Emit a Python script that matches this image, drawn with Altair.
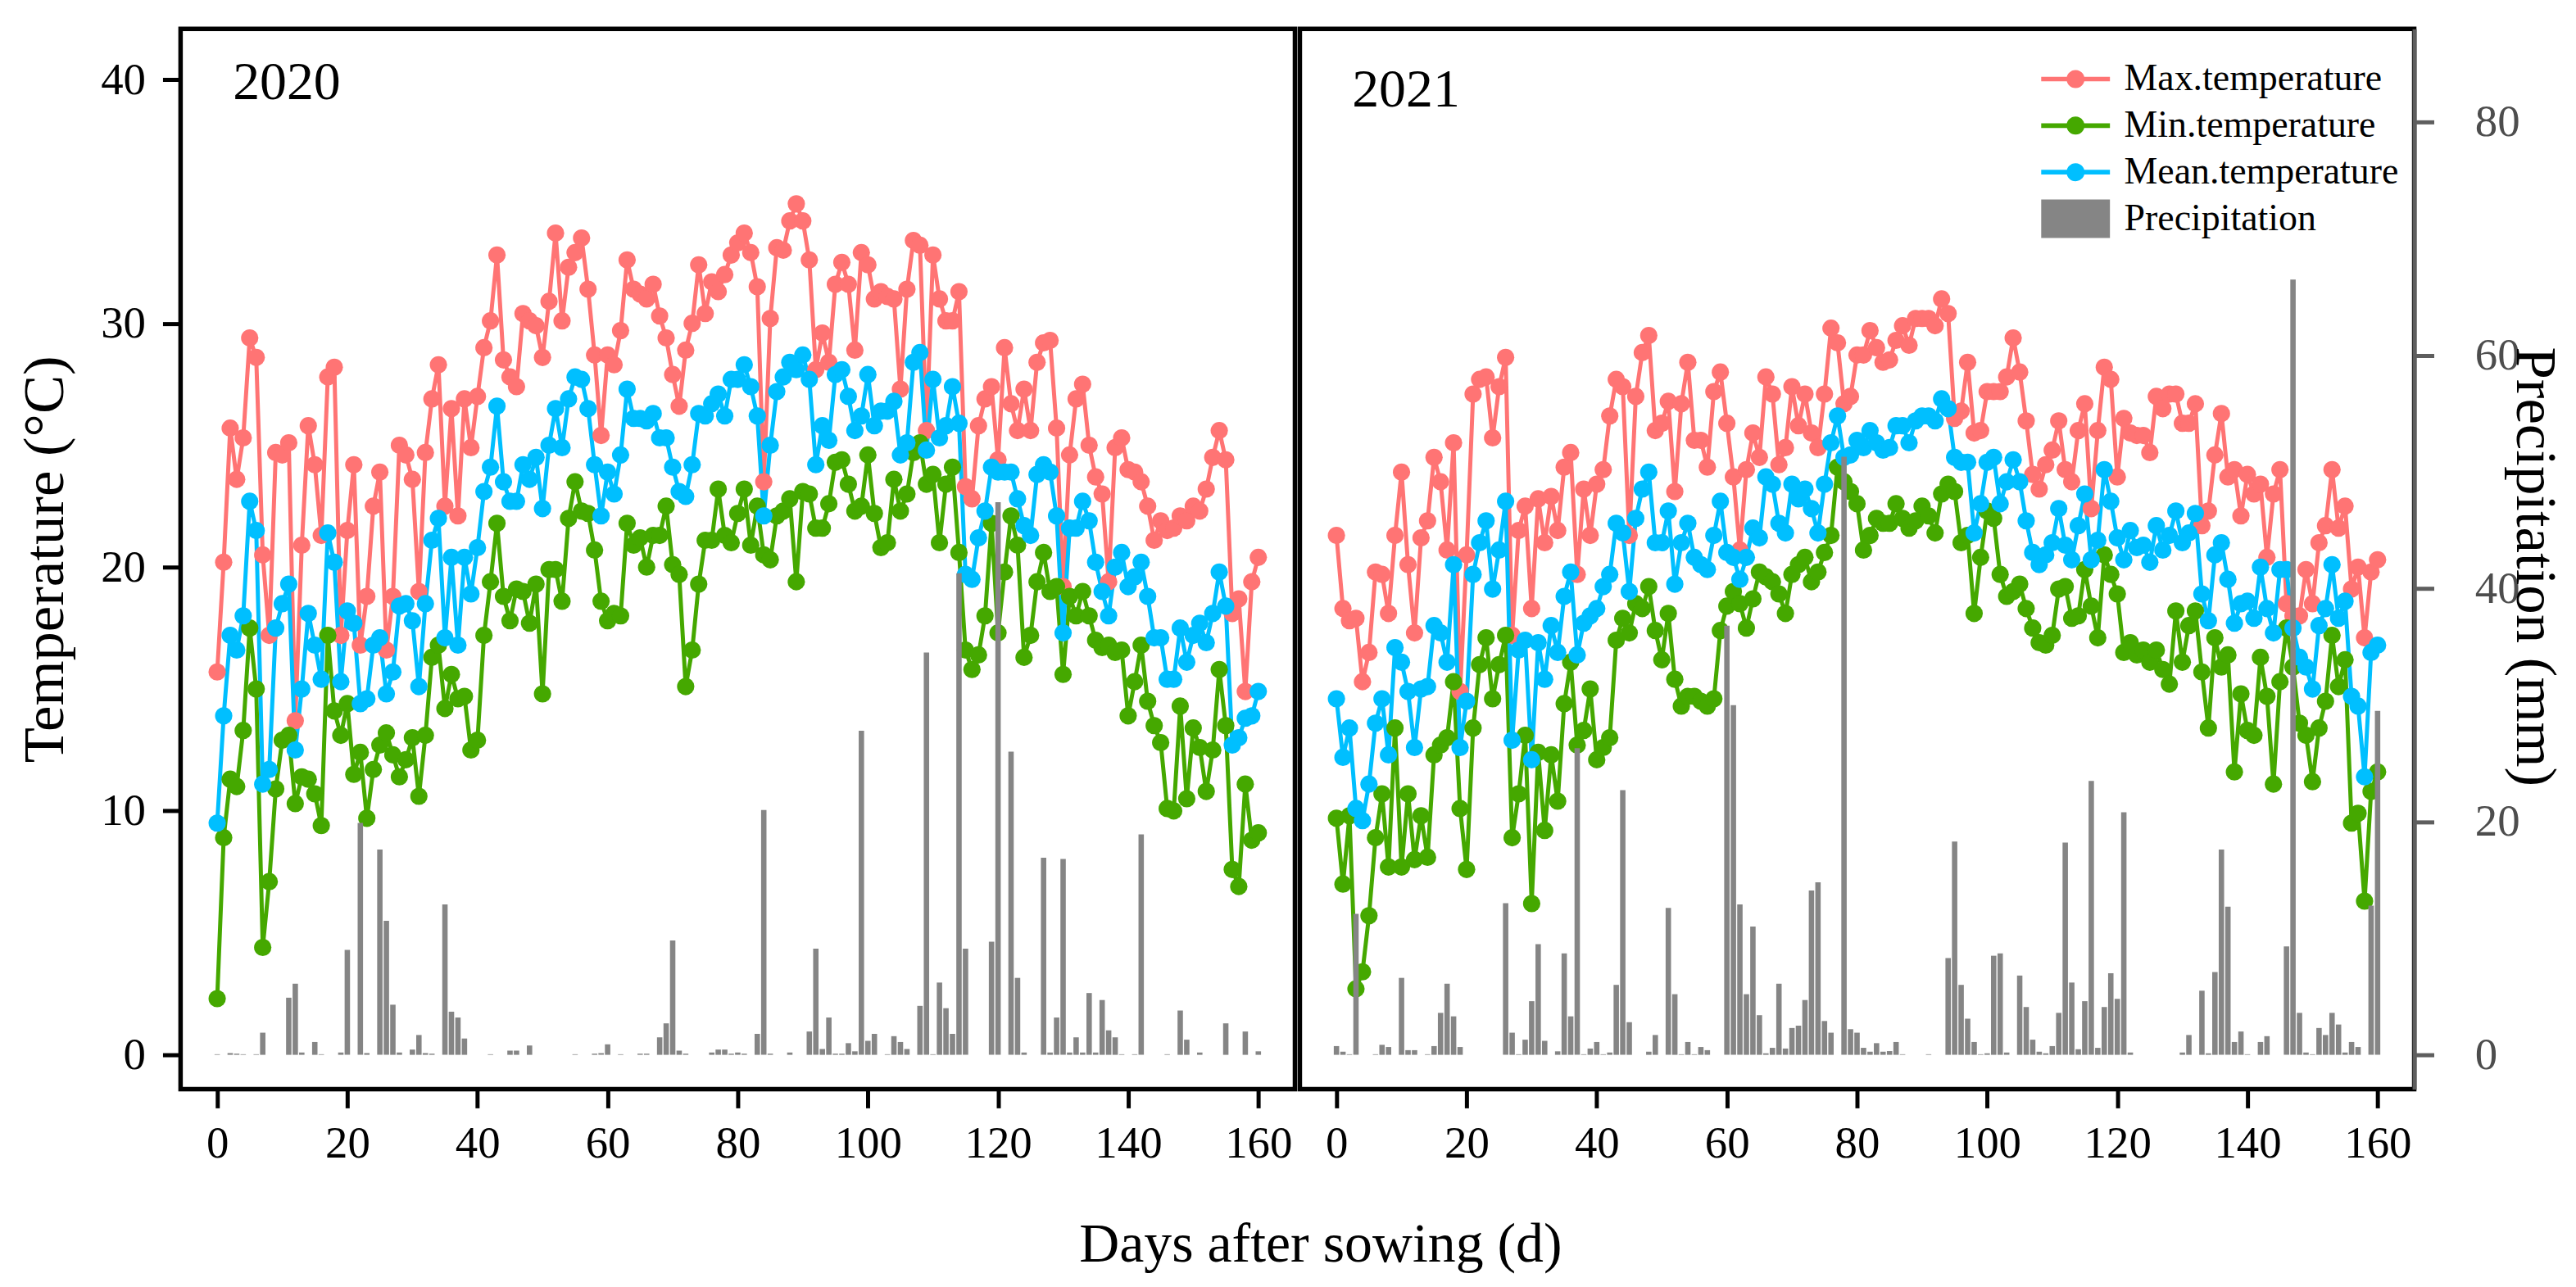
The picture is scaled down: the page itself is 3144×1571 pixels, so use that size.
import altair as alt
import pandas as pd

days = list(range(161))

max_2020 = [15.7, 20.2, 25.7, 23.6, 25.3, 29.4, 28.6, 20.5, 17.2, 24.7,
 24.6, 25.1, 13.7, 20.9, 25.8, 24.2, 21.3, 27.8, 28.2, 17.2,
 21.5, 24.2, 16.8, 18.8, 22.5, 23.9, 16.6, 18.8, 25.0, 24.6,
 23.6, 19.0, 24.7, 26.9, 28.3, 22.5, 26.5, 22.1, 26.9, 24.9,
 27.0, 29.0, 30.1, 32.8, 28.5, 27.8, 27.4, 30.4, 30.1, 29.9,
 28.6, 30.9, 33.7, 30.1, 32.3, 32.9, 33.5, 31.4, 28.7, 25.4,
 28.7, 28.3, 29.7, 32.6, 31.4, 31.2, 31.0, 31.6, 30.3, 29.4,
 27.9, 26.6, 28.9, 30.0, 32.4, 30.4, 31.7, 31.3, 32.0, 32.8,
 33.3, 33.7, 32.9, 31.5, 23.5, 30.2, 33.1, 33.0, 34.2, 34.9,
 34.2, 32.6, 28.1, 29.6, 28.4, 31.6, 32.5, 31.6, 28.9, 32.9,
 32.4, 31.0, 31.3, 31.1, 31.0, 27.3, 31.4, 33.4, 33.2, 25.6,
 32.8, 31.0, 30.1, 30.1, 31.3, 23.3, 22.8, 25.8, 26.9, 27.4,
 24.4, 29.0, 26.7, 25.6, 27.3, 25.6, 28.4, 29.2, 29.3, 25.7,
 19.2, 24.6, 26.9, 27.5, 25.0, 23.7, 23.0, 19.4, 24.9, 25.3,
 24.0, 23.9, 23.5, 22.5, 21.1, 21.9, 21.5, 21.6, 22.1, 21.9,
 22.5, 22.3, 23.2, 24.5, 25.6, 24.4, 18.1, 18.7, 14.9, 19.4,
 20.4]

min_2020 = [2.3, 8.9, 11.3, 11.0, 13.3, 17.5, 15.0, 4.4, 7.1, 10.9,
 12.9, 13.1, 10.3, 11.4, 11.3, 10.7, 9.4, 17.2, 14.1, 13.1,
 14.4, 11.5, 12.4, 9.7, 11.7, 12.7, 13.2, 12.3, 11.4, 12.1,
 13.0, 10.6, 13.1, 16.3, 16.8, 14.2, 15.6, 14.6, 14.7, 12.5,
 12.9, 17.2, 19.4, 21.8, 18.8, 17.8, 19.1, 19.0, 17.7, 19.3,
 14.8, 19.9, 19.9, 18.6, 22.0, 23.5, 22.3, 22.2, 20.7, 18.6,
 17.8, 18.1, 18.0, 21.8, 20.9, 21.2, 20.0, 21.3, 21.3, 22.5,
 20.1, 19.7, 15.1, 16.6, 19.3, 21.1, 21.1, 23.2, 21.3, 21.0,
 22.2, 23.2, 20.9, 22.5, 20.5, 20.3, 22.1, 22.3, 22.8, 19.4,
 23.1, 23.0, 21.6, 21.6, 22.6, 24.3, 24.4, 23.4, 22.3, 22.5,
 24.6, 22.2, 20.8, 21.0, 23.6, 22.3, 23.0, 24.7, 25.1, 23.4,
 23.8, 21.0, 23.4, 24.1, 20.6, 16.6, 15.8, 16.4, 18.0, 21.8,
 17.3, 19.8, 22.1, 20.9, 16.3, 17.2, 19.4, 20.6, 19.0, 19.2,
 15.6, 18.8, 18.0, 19.0, 18.0, 17.0, 16.7, 16.8, 16.5, 16.6,
 13.9, 15.3, 16.8, 14.5, 13.5, 12.8, 10.1, 10.0, 14.3, 10.5,
 13.4, 12.6, 10.8, 12.5, 15.8, 13.5, 7.6, 6.9, 11.1, 8.8,
 9.1]

mean_2020 = [9.5, 13.9, 17.2, 16.6, 18.0, 22.7, 21.5, 11.1, 11.7, 17.5,
 18.5, 19.3, 12.5, 15.0, 18.1, 16.8, 15.4, 21.4, 20.2, 15.3,
 18.2, 17.7, 14.4, 14.6, 16.8, 17.1, 14.8, 15.7, 18.4, 18.5,
 17.8, 15.1, 18.5, 21.1, 22.0, 17.1, 20.4, 16.8, 20.4, 18.9,
 20.8, 23.1, 24.1, 26.6, 23.5, 22.7, 22.7, 24.2, 23.6, 24.5,
 22.4, 25.0, 26.5, 24.9, 26.9, 27.8, 27.7, 26.5, 24.2, 22.1,
 23.9, 23.0, 24.6, 27.3, 26.1, 26.1, 26.0, 26.3, 25.3, 25.3,
 24.1, 23.1, 22.9, 24.2, 26.3, 26.2, 26.7, 27.1, 26.2, 27.7,
 27.7, 28.3, 27.4, 26.2, 22.1, 25.0, 27.2, 27.8, 28.4, 28.1,
 28.7, 27.7, 24.2, 25.8, 25.2, 27.9, 28.1, 27.0, 25.6, 26.2,
 27.9, 25.8, 26.4, 26.4, 26.8, 24.6, 25.1, 28.4, 28.8, 24.8,
 27.7, 25.3, 25.8, 27.4, 25.9, 19.7, 19.5, 21.2, 22.3, 24.1,
 23.9, 23.9, 23.9, 22.8, 21.7, 21.3, 23.8, 24.2, 23.9, 22.1,
 17.3, 21.6, 21.6, 22.7, 21.9, 20.2, 19.0, 18.0, 20.0, 20.6,
 19.2, 19.6, 20.2, 18.8, 17.1, 17.1, 15.4, 15.4, 17.5, 16.1,
 17.2, 17.7, 16.9, 18.1, 19.8, 18.4, 12.7, 13.0, 13.8, 13.9,
 14.9]

prec_2020 = [0.05, 0, 0.15, 0.1, 0.05, 0, 0.05, 1.9, 0, 0,
 0, 4.9, 6.1, 0.2, 0, 1.1, 0.05, 0, 0, 0.2,
 9.0, 0, 19.9, 0.15, 0, 17.6, 11.5, 4.3, 0.2, 0,
 0.45, 1.7, 0.15, 0.1, 0, 12.9, 3.7, 3.2, 1.4, 0,
 0, 0, 0.05, 0, 0, 0.36, 0.36, 0, 0.8, 0,
 0, 0, 0, 0, 0, 0.05, 0, 0, 0.1, 0.15,
 0.9, 0, 0.05, 0, 0, 0.1, 0.1, 0, 1.5, 2.7,
 9.8, 0.36, 0.1, 0, 0, 0, 0.2, 0.45, 0.45, 0.1,
 0.2, 0.1, 0, 1.8, 21.0, 0.1, 0, 0, 0.2, 0,
 0, 2.0, 9.1, 0.5, 3.2, 0.1, 0.1, 1.0, 0.3, 27.8,
 1.2, 1.8, 0, 0.05, 1.6, 1.1, 0.5, 0, 4.2, 34.5,
 0.05, 6.2, 4.0, 1.8, 41.3, 9.1, 0, 0, 0, 9.7,
 47.4, 0, 26.0, 6.6, 0.2, 0, 0, 16.9, 0.2, 3.2,
 16.8, 0.2, 1.5, 0.2, 5.3, 0.2, 4.7, 2.1, 1.5, 0.05,
 0, 0.05, 18.9, 0, 0, 0, 0.05, 0, 3.8, 1.3,
 0, 0.2, 0, 0, 0, 2.7, 0, 0, 2.0, 0,
 0.3]

max_2021 = [21.3, 18.3, 17.8, 17.9, 15.3, 16.5, 19.8, 19.7, 18.1, 21.3,
 23.9, 20.1, 17.3, 21.2, 21.9, 24.5, 23.5, 20.7, 25.1, 14.9,
 20.5, 27.1, 27.7, 27.8, 25.3, 27.4, 28.6, 17.2, 21.5, 22.5,
 18.3, 22.8, 21.0, 22.9, 21.5, 24.1, 24.7, 19.7, 23.2, 21.3,
 23.4, 24.0, 26.2, 27.7, 27.4, 21.3, 27.0, 28.8, 29.5, 25.6,
 25.9, 26.8, 23.1, 26.7, 28.4, 25.2, 25.2, 24.1, 27.2, 28.0,
 25.9, 23.7, 20.7, 24.0, 25.5, 24.5, 27.8, 27.1, 24.2, 24.9,
 27.4, 25.8, 27.1, 25.5, 24.9, 27.1, 29.8, 29.2, 26.7, 27.0,
 28.7, 28.7, 29.7, 29.0, 28.4, 28.5, 29.3, 29.9, 29.1, 30.2,
 30.2, 30.2, 29.9, 31.0, 30.4, 26.1, 26.4, 28.4, 25.5, 25.6,
 27.2, 27.2, 27.2, 27.8, 29.4, 28.0, 26.0, 23.8, 23.2, 24.2,
 24.8, 26.0, 24.0, 23.5, 25.6, 26.7, 22.4, 25.6, 28.2, 27.7,
 23.7, 26.1, 25.5, 25.4, 25.4, 24.7, 27.0, 26.5, 27.1, 27.1,
 25.9, 25.9, 26.7, 21.7, 22.3, 24.6, 26.3, 23.7, 24.0, 22.1,
 23.8, 23.0, 23.4, 20.4, 23.0, 24.0, 18.5, 18.0, 18.0, 19.9,
 18.5, 21.0, 21.7, 24.0, 21.6, 22.5, 19.1, 20.0, 17.1, 19.8,
 20.3]

min_2021 = [9.7, 7.0, 9.8, 2.7, 3.4, 5.7, 8.9, 10.7, 7.7, 13.4,
 7.7, 10.7, 8.0, 9.8, 8.1, 12.3, 12.7, 13.0, 15.3, 10.1,
 7.6, 13.4, 16.0, 17.1, 14.6, 16.0, 17.2, 8.9, 10.7, 13.1,
 6.2, 12.4, 9.2, 12.3, 10.4, 14.4, 16.1, 12.7, 13.3, 15.0,
 12.1, 12.6, 13.0, 17.0, 17.9, 17.3, 18.5, 18.3, 19.2, 17.4,
 16.2, 18.1, 15.4, 14.3, 14.7, 14.7, 14.5, 14.3, 14.6, 17.4,
 18.4, 19.0, 18.5, 17.5, 18.7, 19.8, 19.6, 19.4, 18.9, 18.1,
 19.7, 20.1, 20.4, 19.4, 19.8, 20.6, 21.3, 24.1, 23.5, 23.1,
 22.6, 20.7, 21.3, 22.0, 21.8, 21.8, 22.6, 22.0, 21.6, 21.9,
 22.5, 22.1, 21.4, 23.0, 23.4, 23.1, 21.0, 21.3, 18.1, 20.4,
 22.3, 22.0, 19.7, 18.8, 19.0, 19.3, 18.3, 17.5, 16.9, 16.8,
 17.2, 19.1, 19.2, 17.9, 18.0, 19.9, 18.4, 17.1, 20.5, 19.7,
 18.9, 16.5, 16.9, 16.4, 16.6, 16.1, 16.6, 15.8, 15.2, 18.2,
 16.1, 17.6, 18.2, 15.7, 13.4, 17.1, 15.9, 16.4, 11.6, 14.8,
 13.3, 13.1, 16.3, 14.7, 11.1, 15.3, 17.5, 15.9, 13.6, 13.1,
 11.2, 13.4, 14.5, 17.2, 15.1, 16.2, 9.5, 9.9, 6.3, 10.8,
 11.6]

mean_2021 = [14.6, 12.2, 13.4, 10.1, 9.6, 11.1, 13.6, 14.6, 12.3, 16.7,
 16.1, 14.9, 12.6, 15.0, 15.1, 17.6, 17.3, 16.1, 20.1, 12.6,
 14.5, 19.7, 21.0, 21.9, 19.1, 20.7, 22.7, 12.9, 16.6, 17.0,
 12.1, 16.9, 15.4, 17.6, 16.5, 18.8, 19.8, 16.4, 17.7, 18.0,
 18.3, 19.2, 19.7, 21.8, 21.4, 19.0, 22.0, 23.2, 23.9, 21.0,
 21.0, 22.3, 19.3, 21.0, 21.8, 20.4, 20.1, 19.9, 21.3, 22.7,
 20.6, 20.4, 19.5, 20.4, 21.6, 21.2, 23.7, 23.4, 21.8, 21.4,
 23.4, 22.8, 23.2, 22.4, 21.4, 23.4, 25.1, 26.2, 24.5, 24.6,
 25.2, 24.9, 25.6, 25.1, 24.8, 24.9, 25.8, 25.8, 25.1, 26.0,
 26.2, 26.2, 26.0, 26.9, 26.5, 24.5, 24.3, 24.3, 21.4, 22.6,
 24.3, 24.5, 22.6, 23.5, 24.4, 23.5, 21.9, 20.6, 20.1, 20.5,
 21.0, 22.4, 20.9, 20.3, 21.7, 23.0, 20.3, 21.1, 24.0, 22.7,
 21.2, 20.3, 21.5, 20.8, 20.9, 20.2, 21.7, 20.7, 21.3, 22.3,
 21.0, 21.4, 22.2, 18.9, 17.8, 20.5, 21.0, 19.5, 17.7, 18.5,
 18.6, 17.9, 20.0, 18.3, 17.3, 19.9, 19.9, 17.5, 16.3, 15.9,
 15.0, 17.6, 18.3, 20.1, 17.9, 18.6, 14.7, 14.3, 11.4, 16.5,
 16.8]

prec_2021 = [0.75, 0.27, 0.05, 12.1, 0, 0, 0.05, 0.86, 0.67, 0,
 6.6, 0.4, 0.4, 0, 0.05, 0.75, 3.6, 6.1, 3.3, 0.67,
 0, 0, 0, 0, 0, 0, 13.0, 1.9, 0.05, 1.3,
 4.6, 9.5, 1.2, 0, 0.3, 8.7, 3.3, 26.3, 0.05, 0.54,
 1.1, 0.05, 0.2, 6.0, 22.7, 2.8, 0, 0, 0.27, 1.7,
 0, 12.6, 5.2, 0.05, 1.1, 0.05, 0.67, 0.4, 0, 0,
 36.8, 30.0, 12.9, 5.2, 11.0, 3.4, 0.13, 0.6, 6.1, 0.54,
 2.3, 2.5, 4.7, 14.1, 14.8, 2.9, 1.9, 0, 51.3, 2.2,
 1.9, 0.6, 0.27, 1.0, 0.27, 0.32, 1.1, 0.05, 0, 0,
 0, 0.05, 0, 0, 8.3, 18.3, 6.0, 3.1, 1.1, 0.05,
 0.13, 8.5, 8.7, 0.2, 0, 6.8, 4.1, 1.3, 0.27, 0.13,
 0.75, 3.6, 18.2, 6.2, 0.48, 4.6, 23.5, 0.6, 4.1, 7.0,
 4.8, 20.8, 0.2, 0, 0, 0, 0, 0, 0, 0,
 0.2, 1.7, 0, 5.5, 0.13, 7.1, 17.6, 12.7, 1.1, 2.0,
 0.05, 0, 1.1, 1.6, 0, 0, 9.3, 66.5, 3.6, 0.2,
 0.05, 2.3, 1.7, 3.6, 2.6, 0.2, 1.1, 0.67, 0, 12.8,
 29.5]

series_names = ["Max.temperature", "Min.temperature", "Mean.temperature", "Precipitation"]
series_colors = ["#FF7474", "#45A800", "#00BFFF", "#858585"]
year_labels = ["2020", "2021"]
year_label_y = [39.85, 39.55]

FONT = "Liberation Serif"

x_scale = alt.Scale(domain=[-5, 165], nice=False, zero=False)
t_scale = alt.Scale(domain=[-1.41, 42.08], nice=False, zero=False)
p_scale = alt.Scale(domain=[-2.94, 88.0], nice=False, zero=False)
color_scale = alt.Scale(domain=series_names, range=series_colors)

# legend symbols: a line with a dot, and a filled rectangle
P_LINE = ("M-1.79,-0.12L1.79,-0.12L1.79,0.12L-1.79,0.12Z "
          "M-0.47,0A0.47,0.47,0,1,1,0.47,0A0.47,0.47,0,1,1,-0.47,0Z")
P_RECT = "M-1.79,-1L1.79,-1L1.79,1L-1.79,1Z"

x_axis = alt.Axis(values=list(range(0, 161, 20)), title=None, grid=False, domain=False,
                  labelFont=FONT, labelFontSize=55, labelColor="black", labelPadding=17,
                  tickColor="black", tickSize=23, tickWidth=5, labelFlush=False)

t_axis = alt.Axis(orient="left", values=[0, 10, 20, 30, 40], title="Temperature (°C)",
                  grid=False, domain=False, labelFont=FONT, labelFontSize=55,
                  labelColor="black", labelPadding=21, tickColor="black", tickSize=22,
                  tickWidth=5, titleFont=FONT, titleFontSize=71, titleFontWeight="normal",
                  titleColor="black", titlePadding=31)

p_axis = alt.Axis(orient="right", values=[0, 20, 40, 60, 80], title="Precipitation (mm)",
                  grid=False, domain=True, domainColor="#5E5E5E", domainWidth=5,
                  labelFont=FONT, labelFontSize=55, labelColor="#4D4D4D", labelPadding=50,
                  tickColor="#5E5E5E", tickSize=24, tickWidth=5, titleFont=FONT,
                  titleFontSize=71, titleFontWeight="normal", titleColor="black",
                  titleAngle=90, titleX=146, titleY=658, titleAlign="center",
                  titleBaseline="middle", zindex=1)


def series_frame(vals):
    return pd.DataFrame({"day": days, "temp": vals})


def panel(idx, mx, mn, me, pr):
    first = idx == 0
    temps = [mx, mn, me]
    layers = []
    # lines of the three temperature series
    for k in range(3):
        layers.append(
            alt.Chart(series_frame(temps[k])).mark_line(strokeWidth=5, color=series_colors[k]).encode(
                x=alt.X("day:Q", scale=x_scale, axis=x_axis),
                y=alt.Y("temp:Q", scale=t_scale, axis=t_axis if (first and k == 0) else None),
            )
        )
    # points of the three series
    for k in range(3):
        layers.append(
            alt.Chart(series_frame(temps[k])).mark_point(
                filled=True, size=450, opacity=1, shape="circle", color=series_colors[k]
            ).encode(
                x=alt.X("day:Q", scale=x_scale, axis=x_axis),
                y=alt.Y("temp:Q", scale=t_scale, axis=None),
            )
        )
    # precipitation bars
    layers.append(
        alt.Chart(pd.DataFrame({"day": days, "prec": pr})).mark_bar(size=6.6, color=series_colors[3]).encode(
            x=alt.X("day:Q", scale=x_scale, axis=x_axis),
            y=alt.Y("prec:Q", scale=p_scale, axis=None if first else p_axis),
            y2=alt.datum(0),
        )
    )
    # year label
    label_df = pd.DataFrame({"day": [2.4], "temp": [year_label_y[idx]], "label": [year_labels[idx]]})
    layers.append(
        alt.Chart(label_df).mark_text(align="left", baseline="middle", font=FONT,
                                      fontSize=66, color="black").encode(
            x=alt.X("day:Q", scale=x_scale, axis=x_axis),
            y=alt.Y("temp:Q", scale=t_scale, axis=None),
            text="label:N",
        )
    )
    if not first:
        leg_props = dict(orient="none", legendX=2296, legendY=38, title=None,
                         symbolSize=2209, symbolStrokeWidth=0, symbolOpacity=1,
                         labelFont=FONT, labelFontSize=46, labelColor="black",
                         labelOffset=36, rowPadding=10, padding=0, labelLimit=1000)
        leg_df = pd.DataFrame({"series": series_names})
        layers.append(
            alt.Chart(leg_df).mark_point(filled=True, size=2209, clip=True, opacity=1).encode(
                x=alt.value(-4000),
                y=alt.value(-4000),
                color=alt.Color("series:N", scale=color_scale, legend=alt.Legend(**leg_props)),
                shape=alt.Shape("series:N",
                                scale=alt.Scale(domain=series_names,
                                                range=[P_LINE, P_LINE, P_LINE, P_RECT]),
                                legend=alt.Legend(**leg_props)),
            )
        )
    return alt.layer(*layers).resolve_scale(y="independent").properties(width=1364, height=1298)


left = panel(0, max_2020, min_2020, mean_2020, prec_2020)
right = panel(1, max_2021, min_2021, mean_2021, prec_2021)

chart = alt.hconcat(left, right, spacing=0).properties(
    title=alt.TitleParams("Days after sowing (d)", orient="bottom", anchor="middle",
                          font=FONT, fontSize=68, fontWeight="normal", color="black",
                          offset=60, dx=38),
    padding={"left": 9, "top": 22, "right": 5, "bottom": 10},
).configure(font=FONT).configure_view(stroke="black", strokeWidth=5.5)

chart.save("out.html", embed_options={"renderer": "svg", "actions": False})
